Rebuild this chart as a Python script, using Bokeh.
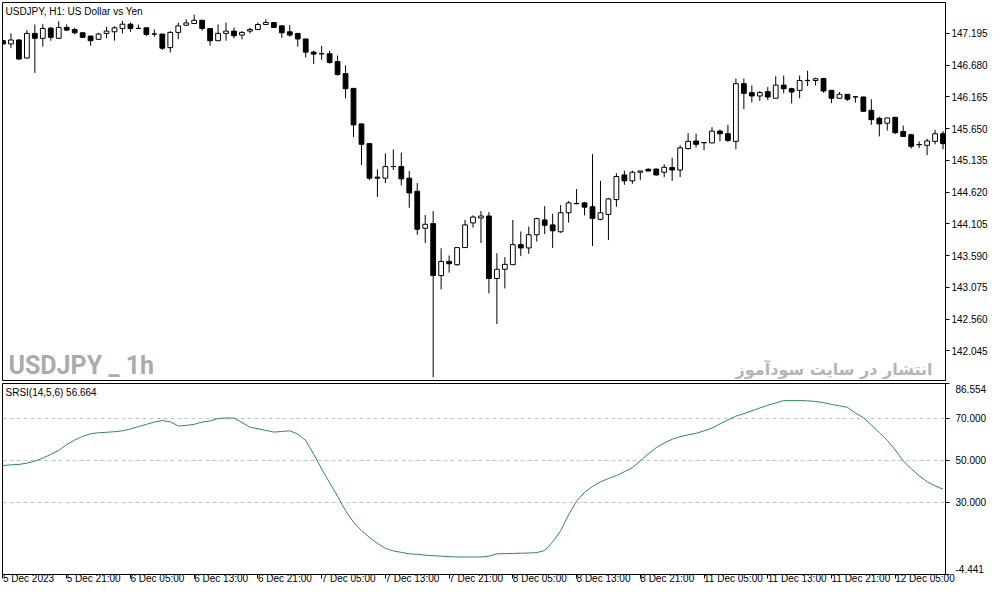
import numpy as np
from bokeh.plotting import figure
from bokeh.layouts import column
from bokeh.models import ColumnDataSource, Range1d, FixedTicker, Label, NumeralTickFormatter
from bokeh.embed import file_html
from bokeh.resources import INLINE

# ---------------- data ----------------
opens = [147.077, 147.024, 147.088, 146.795, 147.195, 147.115, 147.280, 147.115, 147.291, 147.259,
         147.205, 147.152, 147.099, 147.195, 147.221, 147.275, 147.344, 147.277, 147.285, 147.186,
         147.184, 146.964, 147.211, 147.328, 147.355, 147.408, 147.275, 147.076, 147.195, 147.232,
         147.168, 147.232, 147.259, 147.339, 147.371, 147.317, 147.221, 147.195, 147.104, 146.891,
         146.866, 146.864, 146.740, 146.543, 146.303, 145.727, 145.407, 144.863, 144.847, 145.036,
         145.034, 144.847, 144.634, 144.035, 144.110, 143.267, 143.497, 143.443, 143.721, 144.121,
         144.201, 144.233, 143.219, 143.369, 143.443, 143.769, 143.715, 143.929, 144.169, 144.089,
         143.977, 144.286, 144.433, 144.446, 144.382, 144.179, 144.259, 144.499, 144.899, 144.803,
         144.943, 144.991, 144.995, 144.943, 145.018, 144.979, 145.327, 145.450, 145.425, 145.418,
         145.610, 145.567, 145.444, 146.379, 146.234, 146.180, 146.250, 146.143, 146.356, 146.298,
         146.271, 146.429, 146.431, 146.463, 146.271, 146.143, 146.207, 146.166, 146.164, 145.947,
         145.818, 145.738, 145.834, 145.604, 145.551, 145.393, 145.380, 145.444, 145.567]
highs = [147.085, 147.195, 147.104, 147.248, 147.339, 147.344, 147.301, 147.392, 147.339, 147.285,
         147.208, 147.155, 147.205, 147.301, 147.312, 147.397, 147.371, 147.339, 147.288, 147.259,
         147.187, 147.232, 147.371, 147.424, 147.499, 147.411, 147.278, 147.339, 147.371, 147.291,
         147.232, 147.285, 147.371, 147.424, 147.374, 147.320, 147.328, 147.198, 147.107, 146.916,
         146.992, 146.912, 146.836, 146.676, 146.306, 145.730, 145.415, 144.991, 145.247, 145.311,
         145.263, 144.963, 144.767, 144.249, 144.313, 143.710, 143.593, 143.726, 144.169, 144.243,
         144.313, 144.297, 143.630, 143.566, 144.169, 143.982, 144.062, 144.206, 144.394, 144.270,
         144.410, 144.474, 144.670, 144.462, 145.236, 144.803, 144.526, 144.927, 144.970, 144.970,
         144.967, 145.007, 144.999, 145.071, 145.178, 145.380, 145.578, 145.567, 145.434, 145.674,
         145.636, 145.711, 146.463, 146.463, 146.351, 146.260, 146.324, 146.500, 146.511, 146.314,
         146.511, 146.591, 146.475, 146.475, 146.274, 146.244, 146.210, 146.167, 146.167, 146.127,
         145.844, 145.826, 145.837, 145.700, 145.567, 145.444, 145.487, 145.631, 145.610]
lows = [147.020, 146.955, 146.768, 146.792, 146.555, 146.980, 147.076, 147.104, 147.232, 147.179,
        147.128, 146.996, 147.088, 147.115, 147.076, 147.195, 147.221, 147.272, 147.152, 147.141,
        146.928, 146.884, 147.099, 147.317, 147.352, 147.237, 146.996, 147.073, 147.076, 147.115,
        147.099, 147.195, 147.248, 147.336, 147.288, 147.124, 147.141, 146.980, 146.804, 146.699,
        146.768, 146.703, 146.511, 146.143, 145.514, 145.060, 144.819, 144.542, 144.766, 144.979,
        144.730, 144.366, 143.929, 143.795, 141.618, 143.042, 143.315, 143.427, 143.718, 144.046,
        143.795, 142.978, 142.482, 143.058, 143.440, 143.582, 143.619, 143.817, 143.939, 143.715,
        143.961, 144.126, 144.419, 144.243, 143.747, 144.163, 143.843, 144.382, 144.739, 144.755,
        144.819, 144.960, 144.890, 144.863, 144.803, 144.863, 145.311, 145.343, 145.300, 145.415,
        145.444, 145.434, 145.316, 145.967, 146.074, 146.100, 146.116, 146.140, 146.223, 146.058,
        146.143, 146.340, 146.351, 146.234, 146.063, 146.140, 146.100, 146.074, 145.928, 145.711,
        145.524, 145.620, 145.567, 145.521, 145.327, 145.338, 145.220, 145.396, 145.316]
closes = [147.024, 147.088, 146.779, 147.195, 147.115, 147.275, 147.131, 147.291, 147.248, 147.205,
          147.131, 147.076, 147.184, 147.232, 147.285, 147.344, 147.275, 147.275, 147.179, 147.184,
          146.955, 147.211, 147.317, 147.365, 147.408, 147.275, 147.076, 147.195, 147.232, 147.157,
          147.211, 147.259, 147.339, 147.371, 147.291, 147.205, 147.168, 147.104, 146.891, 146.859,
          146.864, 146.724, 146.527, 146.298, 145.711, 145.396, 144.847, 144.847, 145.034, 145.034,
          144.835, 144.607, 144.019, 144.099, 143.267, 143.497, 143.459, 143.721, 144.089, 144.217,
          144.233, 143.219, 143.369, 143.449, 143.769, 143.715, 143.929, 144.190, 144.083, 143.993,
          144.286, 144.446, 144.437, 144.377, 144.195, 144.286, 144.510, 144.874, 144.803, 144.943,
          144.963, 144.963, 144.899, 145.023, 144.979, 145.338, 145.444, 145.396, 145.421, 145.610,
          145.567, 145.460, 146.379, 146.223, 146.180, 146.234, 146.164, 146.356, 146.298, 146.244,
          146.431, 146.433, 146.459, 146.260, 146.143, 146.207, 146.127, 146.164, 145.931, 145.796,
          145.727, 145.823, 145.583, 145.524, 145.364, 145.389, 145.450, 145.567, 145.407]
srsi = [47.5, 47.8, 48.0, 48.6, 49.6, 51.0, 52.8, 54.7, 57.5, 59.6,
        61.4, 62.6, 63.1, 63.3, 63.6, 64.0, 64.9, 66.0, 67.1, 68.2,
        68.9, 68.3, 66.3, 66.6, 67.1, 68.2, 68.7, 69.9, 70.1, 70.1,
        68.0, 65.7, 65.0, 64.2, 63.4, 63.7, 64.0, 62.5, 59.4, 52.9,
        45.9, 39.3, 32.8, 26.0, 20.5, 16.5, 13.2, 10.4, 8.0, 6.8,
        6.1, 5.4, 5.2, 4.8, 4.5, 4.3, 4.1, 3.9, 3.9, 3.9,
        3.9, 4.3, 5.4, 5.5, 5.6, 5.7, 5.8, 6.0, 7.0, 11.1,
        16.4, 24.0, 30.5, 34.7, 37.5, 39.7, 41.3, 42.7, 44.5, 46.4,
        49.7, 53.0, 56.0, 58.2, 60.0, 61.2, 62.1, 62.8, 64.0, 65.3,
        67.3, 69.2, 71.0, 72.2, 73.5, 74.9, 76.2, 77.3, 78.4, 78.4,
        78.4, 78.3, 78.0, 77.4, 76.6, 75.9, 75.2, 72.5, 70.3, 66.8,
        63.2, 59.5, 54.9, 49.7, 46.0, 42.6, 39.8, 37.8, 36.2]

time_tick_index = [0, 8, 16, 24, 32, 40, 48, 56, 64, 72, 80, 88, 96, 104, 112]
time_tick_labels = ["5 Dec 2023", "5 Dec 21:00", "6 Dec 05:00", "6 Dec 13:00", "6 Dec 21:00",
                    "7 Dec 05:00", "7 Dec 13:00", "7 Dec 21:00", "8 Dec 05:00", "8 Dec 13:00",
                    "8 Dec 21:00", "11 Dec 05:00", "11 Dec 13:00", "11 Dec 21:00", "12 Dec 05:00"]
price_ticks = [142.045, 142.560, 143.075, 143.590, 144.105, 144.620, 145.135, 145.650, 146.165, 146.680, 147.195]
price_bounds = [141.565, 147.696]
srsi_bounds = [-4.441, 86.554]
srsi_levels = [30, 50, 70]
bar_bounds = [-0.06, 118.31]

title_text = "USDJPY, H1:  US Dollar vs Yen"
srsi_text = "SRSI(14,5,6) 56.664"
watermark_left = "USDJPY _ 1h"
watermark_right = "انتشار در سایت سودآموز"

# ---------------- build ----------------
FONT = "Liberation Sans"
FS = "10px"

o = np.array(opens); h = np.array(highs); l = np.array(lows); c = np.array(closes)
idx = np.arange(len(o))
bull = c >= o
src = ColumnDataSource(dict(
    x=idx, high=h, low=l,
    top=np.maximum(o, c), bottom=np.minimum(o, c),
    fill=np.where(bull, "white", "black"),
))

x_rng = Range1d(*bar_bounds)

p = figure(frame_width=943, frame_height=378, x_range=x_rng, y_range=Range1d(*price_bounds),
           x_axis_location=None, y_axis_location="right", output_backend="svg",
           toolbar_location=None, min_border_left=2, min_border_right=42,
           min_border_top=2, min_border_bottom=3)
p.grid.visible = False
p.outline_line_color = "black"
p.outline_line_alpha = 1.0
p.background_fill_color = "white"
p.border_fill_color = "white"

ya = p.yaxis[0]
ya.ticker = FixedTicker(ticks=price_ticks)
ya.formatter = NumeralTickFormatter(format="0.000")
ya.major_tick_out = 4
ya.major_tick_in = 0
ya.minor_tick_out = 0
ya.minor_tick_in = 0
ya.major_label_standoff = 2
ya.axis_line_color = "black"
ya.major_tick_line_color = "black"
ya.major_label_text_font = FONT
ya.major_label_text_font_size = FS
ya.major_label_text_color = "black"

p.segment(x0="x", y0="high", x1="x", y1="low", source=src, line_color="black", line_width=1)
p.vbar(x="x", top="top", bottom="bottom", width=0.6, source=src,
       fill_color="fill", line_color="black", line_width=1)

p.add_layout(Label(x=bar_bounds[0], y=price_bounds[1], x_offset=3, y_offset=-3,
                   text=title_text, text_baseline="top", text_font=FONT,
                   text_font_size=FS, text_color="black"))
p.add_layout(Label(x=bar_bounds[0], y=price_bounds[0], x_offset=6, y_offset=1,
                   text=watermark_left, text_baseline="bottom",
                   text_font="Roboto", text_font_style="bold",
                   text_font_size="25px", text_color="#ababab"))
p.add_layout(Label(x=bar_bounds[1], y=price_bounds[0], x_offset=-13, y_offset=2,
                   text=watermark_right, text_align="right", text_baseline="bottom",
                   text_font="DejaVu Sans", text_font_style="bold",
                   text_font_size="16px", text_color="#b4b4b4"))

# ---------------- indicator ----------------
p2 = figure(frame_width=943, frame_height=191, x_range=x_rng, y_range=Range1d(*srsi_bounds),
            y_axis_location="right", output_backend="svg", toolbar_location=None,
            min_border_left=2, min_border_right=42, min_border_top=0, min_border_bottom=13)
p2.outline_line_color = "black"
p2.outline_line_alpha = 1.0
p2.xgrid.visible = False
p2.ygrid.ticker = FixedTicker(ticks=srsi_levels)
p2.ygrid.grid_line_color = "#c4c4c4"
p2.ygrid.grid_line_dash = "4 3"
p2.ygrid.grid_line_width = 1

# tick marks at the true values (drawn as minor ticks); edge labels sit inside the panel
edge_label_pos = [srsi_bounds[0] + 2.8, srsi_bounds[1] - 2.8]
ya2 = p2.yaxis[0]
ya2.ticker = FixedTicker(ticks=[edge_label_pos[0]] + srsi_levels + [edge_label_pos[1]],
                         minor_ticks=[srsi_bounds[0]] + srsi_levels + [srsi_bounds[1]])
ya2.major_label_overrides = {edge_label_pos[0]: f"{srsi_bounds[0]:.3f}",
                             edge_label_pos[1]: f"{srsi_bounds[1]:.3f}",
                             30: "30.000", 50: "50.000", 70: "70.000"}
ya2.major_tick_out = 0
ya2.major_tick_in = 0
ya2.minor_tick_out = 4
ya2.minor_tick_in = 0
ya2.minor_tick_line_color = "black"
ya2.major_label_standoff = 6
ya2.axis_line_color = "black"
ya2.major_label_text_font = FONT
ya2.major_label_text_font_size = FS
ya2.major_label_text_color = "black"

xa = p2.xaxis[0]
xa.ticker = FixedTicker(ticks=time_tick_index)
xa.major_label_overrides = {t: s for t, s in zip(time_tick_index, time_tick_labels)}
xa.major_label_orientation = -0.0001
xa.major_tick_out = 4
xa.major_tick_in = 0
xa.minor_tick_out = 0
xa.minor_tick_in = 0
xa.major_label_standoff = 0
xa.axis_line_color = "black"
xa.major_label_text_font = FONT
xa.major_label_text_font_size = FS
xa.major_label_text_color = "black"

p2.line(idx, srsi, line_color="#2e8b57", line_width=1)

p2.add_layout(Label(x=bar_bounds[0], y=srsi_bounds[1], x_offset=3, y_offset=-3,
                    text=srsi_text, text_baseline="top", text_font=FONT,
                    text_font_size=FS, text_color="black"))

layout = column(p, p2)
open("out.html", "w").write(file_html(layout, INLINE))
